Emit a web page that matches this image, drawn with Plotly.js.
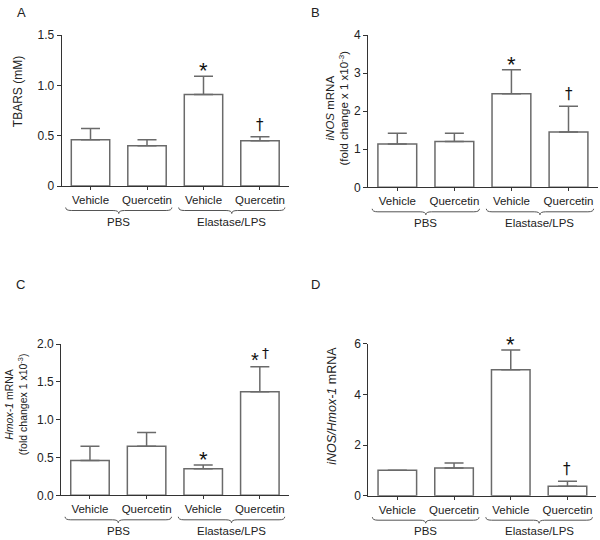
<!DOCTYPE html>
<html><head><meta charset="utf-8">
<script src="https://cdn.plot.ly/plotly-3.0.1.min.js"></script>
<style>html,body{margin:0;padding:0;background:#fff}#chart{width:600px;height:540px}</style>
</head><body><div id="chart"></div>
<script>
// ---- data ----
const treatments = ['Vehicle', 'Quercetin', 'Vehicle', 'Quercetin'];
const groupOf = ['PBS', 'PBS', 'Elastase/LPS', 'Elastase/LPS'];
const groups = ['PBS', 'Elastase/LPS'];

const tbarsMean = [0.46, 0.40, 0.91, 0.45];
const tbarsErr = [0.11, 0.06, 0.18, 0.04];
const tbarsStar = [false, false, true, false];
const tbarsDagger = [false, false, false, true];
const tbarsTickVals = [0, 0.5, 1.0, 1.5];
const tbarsTickText = ['0', '0.5', '1.0', '1.5'];

const inosMean = [1.14, 1.20, 2.46, 1.45];
const inosErr = [0.28, 0.22, 0.63, 0.68];
const inosStar = [false, false, true, false];
const inosDagger = [false, false, false, true];
const inosTickVals = [0, 1, 2, 3, 4];
const inosTickText = ['0', '1', '2', '3', '4'];

const hmoxMean = [0.46, 0.65, 0.35, 1.37];
const hmoxErr = [0.19, 0.18, 0.05, 0.33];
const hmoxStar = [false, false, true, true];
const hmoxDagger = [false, false, false, true];
const hmoxTickVals = [0, 0.5, 1.0, 1.5, 2.0];
const hmoxTickText = ['0.0', '0.5', '1.0', '1.5', '2.0'];

const ratioMean = [1.00, 1.09, 4.97, 0.37];
const ratioErr = [0, 0.20, 0.78, 0.20];
const ratioStar = [false, false, true, false];
const ratioDagger = [false, false, false, true];
const ratioTickVals = [0, 2, 4, 6];
const ratioTickText = ['0', '2', '4', '6'];

// ---- styling / layout helpers ----
const W = 600, H = 540;
const FONT = 'Liberation Sans, Arial, sans-serif';
const DAG_FONT = 'DejaVu Sans, Liberation Serif, serif';
const TXT = '#222';
const AX = '#333';
const BAR_LINE = '#6a6a6a';
const px = x => x / W;
const py = y => 1 - y / H;

const panels = [
  {letter: 'A', mean: tbarsMean, err: tbarsErr, star: tbarsStar, dag: tbarsDagger, tv: tbarsTickVals, tt: tbarsTickText, ymax: 1.5,
   box: [61.7, 288.8, 35, 186], letterPos: [21.7, 12.5],
   title: 'TBARS (mM)', titlePos: [17.5, 91.7], titleSize: 12},
  {letter: 'B', mean: inosMean, err: inosErr, star: inosStar, dag: inosDagger, tv: inosTickVals, tt: inosTickText, ymax: 4,
   box: [368.2, 597.6, 35, 187.3], letterPos: [315, 12.5],
   title: '<i>iNOS</i> mRNA<br>(fold change x 1 x10<sup>-3</sup>)', titlePos: [337.5, 108], titleSize: 11.5},
  {letter: 'C', mean: hmoxMean, err: hmoxErr, star: hmoxStar, dag: hmoxDagger, tv: hmoxTickVals, tt: hmoxTickText, ymax: 2.0,
   box: [61.1, 288.7, 344, 495.3], letterPos: [20, 284],
   title: '<i>Hmox-1</i> mRNA<br>(fold changex 1 x10<sup>-3</sup>)', titlePos: [16.3, 404], titleSize: 10.5},
  {letter: 'D', mean: ratioMean, err: ratioErr, star: ratioStar, dag: ratioDagger, tv: ratioTickVals, tt: ratioTickText, ymax: 6,
   box: [368.4, 596.4, 343.7, 495.7], letterPos: [315, 284],
   title: '<i>iNOS/Hmox-1</i> mRNA', titlePos: [332, 405.8], titleSize: 12.5}
];

const xIdx = treatments.map((_, i) => i);
const data = [];
const layout = {
  width: W, height: H, margin: {l: 0, r: 0, t: 0, b: 0},
  paper_bgcolor: '#fff', plot_bgcolor: '#fff', showlegend: false,
  font: {family: FONT, color: TXT, size: 11},
  annotations: [], shapes: []
};

panels.forEach((p, k) => {
  const n = k + 1;
  const xa = 'x' + (n === 1 ? '' : n), ya = 'y' + (n === 1 ? '' : n);
  const xKey = 'xaxis' + (n === 1 ? '' : n), yKey = 'yaxis' + (n === 1 ? '' : n);
  const [l, r, t, b] = p.box;

  data.push({
    type: 'bar', x: xIdx, y: p.mean, xaxis: xa, yaxis: ya, width: 0.68,
    marker: {color: '#fff', line: {color: BAR_LINE, width: 1.5}},
    error_y: {type: 'data', symmetric: false, array: p.err, arrayminus: p.err.map(() => 0),
              color: BAR_LINE, thickness: 1.5, width: 9.5},
    hoverinfo: 'skip'
  });

  layout[xKey] = {
    domain: [px(l), px(r)], anchor: ya, range: [-0.51, 3.51],
    tickmode: 'array', tickvals: xIdx, ticktext: treatments,
    showgrid: false, zeroline: false, showline: true, linecolor: AX, linewidth: 1,
    ticks: 'outside', ticklen: 3, tickcolor: AX, tickwidth: 1,
    tickfont: {family: FONT, size: 11.5, color: TXT}, fixedrange: true
  };
  layout[yKey] = {
    domain: [py(b), py(t)], anchor: xa, range: [0, p.ymax],
    tickmode: 'array', tickvals: p.tv, ticktext: p.tt,
    showgrid: false, zeroline: false, showline: true, linecolor: AX, linewidth: 1,
    ticks: 'outside', ticklen: 4, tickcolor: AX, tickwidth: 1,
    tickfont: {family: FONT, size: 12, color: TXT}, fixedrange: true
  };

  // panel letter
  layout.annotations.push({text: p.letter, xref: 'paper', yref: 'paper', x: px(p.letterPos[0]), y: py(p.letterPos[1]),
    xanchor: 'center', yanchor: 'middle', showarrow: false, font: {family: FONT, size: 13, color: TXT}});
  // y title
  layout.annotations.push({text: p.title, xref: 'paper', yref: 'paper', x: px(p.titlePos[0]), y: py(p.titlePos[1]),
    xanchor: 'center', yanchor: 'middle', textangle: -90, showarrow: false,
    font: {family: FONT, size: p.titleSize, color: TXT}});
  // significance marks
  xIdx.forEach(i => {
    const top = p.mean[i] + p.err[i];
    const both = p.star[i] && p.dag[i];
    if (p.star[i]) {
      layout.annotations.push({text: '*', xref: xa, yref: ya, x: xIdx[i], y: top,
        xanchor: both ? 'right' : 'center', yanchor: 'bottom', showarrow: false,
        xshift: both ? 1 : 0, yshift: both ? -6 : -9,
        font: {family: FONT, size: both ? 20 : 22, color: '#111'}});
    }
    if (p.dag[i]) {
      layout.annotations.push({text: '†', xref: xa, yref: ya, x: xIdx[i], y: top,
        xanchor: both ? 'left' : 'center', yanchor: 'bottom', showarrow: false,
        xshift: both ? 0 : 0, yshift: both ? 4 : 1,
        font: {family: DAG_FONT, size: both ? 14 : 15, color: '#111'}});
    }
  });
  // group braces + labels
  groups.forEach(g => {
    const members = xIdx.filter(i => groupOf[i] === g);
    const c = members.reduce((a, v) => a + v, 0) / members.length;
    const half = 0.94, rr = 0.1;
    const x0 = c - half, x1 = c + half;
    const yTop = py(b + 21.5), yMid = py(b + 24.5), yBot = py(b + 27.5);
    const path = `M ${x0},${yTop} Q ${x0},${yMid} ${x0 + rr},${yMid} L ${c - rr},${yMid} ` +
      `Q ${c},${yMid} ${c},${yBot} Q ${c},${yMid} ${c + rr},${yMid} L ${x1 - rr},${yMid} ` +
      `Q ${x1},${yMid} ${x1},${yTop}`;
    layout.shapes.push({type: 'path', xref: xa, yref: 'paper', path: path,
      line: {color: '#555', width: 1}});
    layout.annotations.push({text: g, xref: xa, yref: 'paper', x: c, y: py(b + 35.5),
      xanchor: 'center', yanchor: 'middle', showarrow: false, font: {family: FONT, size: 11.5, color: TXT}});
  });
});

Plotly.newPlot('chart', data, layout, {displayModeBar: false, staticPlot: true});
</script>
</body></html>
